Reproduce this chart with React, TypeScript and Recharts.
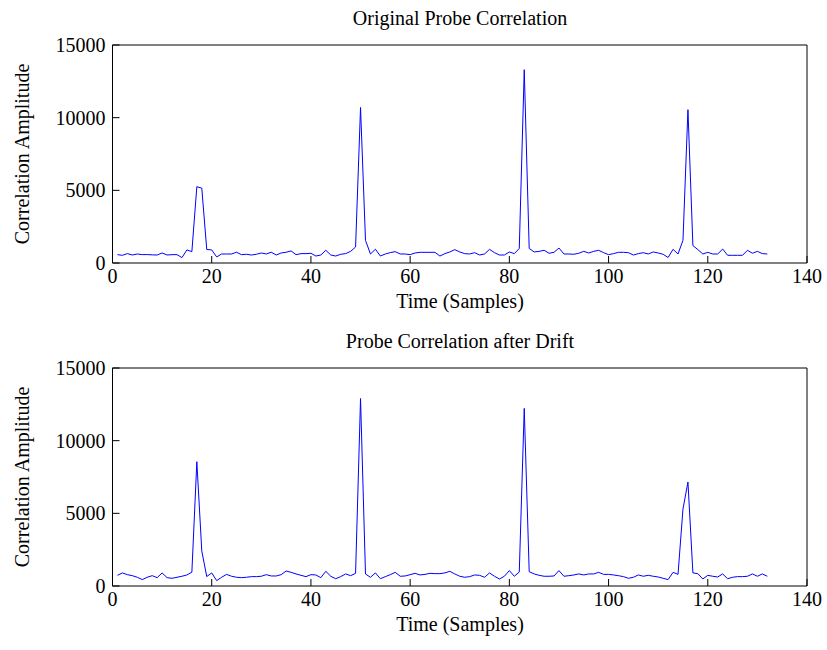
import React from 'react';
import { LineChart, Line, XAxis, YAxis } from 'recharts';

// correlation amplitude per sample (samples 1..132)
const originalCorr = [
  575, 530, 645, 550, 620, 575, 580, 560, 550, 690,
  550, 575, 575, 370, 900, 780, 5250, 5150, 930, 900,
  420, 620, 620, 620, 740, 575, 600, 550, 600, 690,
  620, 740, 550, 690, 740, 830, 575, 645, 645, 670,
  480, 550, 875, 550, 480, 600, 645, 800, 1100, 10700,
  1560, 620, 950, 480, 620, 715, 780, 620, 620, 575,
  690, 735, 735, 735, 735, 480, 645, 760, 920, 760,
  645, 620, 710, 550, 620, 940, 710, 550, 550, 760,
  645, 1000, 13300, 1000, 760, 800, 875, 670, 735, 1030,
  620, 620, 600, 670, 800, 690, 800, 875, 710, 575,
  645, 735, 735, 710, 550, 645, 710, 620, 760, 690,
  600, 380, 940, 620, 1560, 10550, 1200, 920, 620, 735,
  620, 620, 960, 530, 530, 530, 530, 875, 670, 800,
  645, 620,
];

const driftCorr = [
  735, 900, 780, 710, 600, 440, 600, 710, 575, 900,
  575, 530, 600, 670, 760, 950, 8550, 2400, 650, 900,
  370, 600, 800, 670, 600, 575, 600, 645, 645, 670,
  780, 690, 690, 780, 1030, 940, 830, 735, 645, 780,
  760, 575, 1010, 670, 500, 645, 830, 710, 870, 12900,
  825, 600, 900, 500, 645, 780, 940, 670, 690, 780,
  870, 760, 800, 870, 850, 850, 900, 1010, 830, 670,
  600, 645, 760, 735, 600, 900, 670, 480, 670, 1060,
  670, 960, 12220, 985, 830, 735, 670, 670, 690, 1060,
  670, 710, 760, 830, 760, 830, 830, 940, 800, 800,
  760, 710, 645, 530, 600, 760, 670, 735, 670, 620,
  530, 440, 940, 800, 5300, 7150, 900, 850, 480, 735,
  670, 620, 830, 500, 600, 645, 645, 670, 830, 670,
  830, 670,
];

const xTicks = [0, 20, 40, 60, 80, 100, 120, 140];
const yTicks = [0, 5000, 10000, 15000];

const FONT = '"Liberation Serif", "Times New Roman", serif';
const TICK_LEN = 7;

const toRows = (vals: number[]) => vals.map((v, i) => ({ t: i + 1, v }));

// mirrored axes draw ticks inward; these put the labels back outside the box
const BottomTick = (props: any) => (
  <text x={props.x} y={props.y + TICK_LEN + 6} dy="0.71em" textAnchor="middle"
    fontFamily={FONT} fontSize={20} fill="#000">
    {props.payload.value}
  </text>
);

const LeftTick = (props: any) => (
  <text x={props.x - TICK_LEN - 7} y={props.y} dy="0.35em" textAnchor="end"
    fontFamily={FONT} fontSize={20} fill="#000">
    {props.payload.value}
  </text>
);

const textStyle: React.CSSProperties = {
  position: 'absolute',
  fontFamily: FONT,
  fontSize: 20,
  lineHeight: '24px',
  color: '#000',
  textAlign: 'center',
  whiteSpace: 'nowrap',
};

const Panel: React.FC<{ values: number[]; top: number; title: string }> = ({ values, top, title }) => {
  const rows = toRows(values);
  return (
    <div style={{ position: 'absolute', left: 0, top, width: 827, height: 325 }}>
      <LineChart width={827} height={325} data={rows} margin={{ top: 45, right: 20, bottom: 62, left: 112.5 }}>
        <XAxis dataKey="t" type="number" orientation="bottom" mirror domain={[0, 140]} ticks={xTicks}
          height={30} stroke="#000" tickSize={TICK_LEN} tickMargin={0} tick={<BottomTick />} />
        <XAxis xAxisId="top" dataKey="t" type="number" orientation="top" mirror domain={[0, 140]}
          ticks={xTicks} height={30} stroke="#000" tickSize={TICK_LEN} tick={false} />
        <YAxis type="number" orientation="left" mirror domain={[0, 15000]} ticks={yTicks}
          width={60} stroke="#000" tickSize={TICK_LEN} tickMargin={0} tick={<LeftTick />} />
        <YAxis yAxisId="right" orientation="right" mirror type="number" domain={[0, 15000]}
          ticks={yTicks} width={60} stroke="#000" tickSize={TICK_LEN} tick={false} />
        <Line type="linear" dataKey="v" stroke="#0000ff" strokeWidth={1} dot={false} isAnimationActive={false} />
      </LineChart>
      <div style={{ ...textStyle, left: 160, width: 600, top: 6 }}>{title}</div>
      <div style={{ ...textStyle, left: 160, width: 600, top: 289 }}>Time (Samples)</div>
      <div style={{ ...textStyle, left: -128, width: 300, top: 142, transform: 'rotate(-90deg)' }}>
        Correlation Amplitude
      </div>
    </div>
  );
};

export default function App() {
  return (
    <div style={{ position: 'absolute', left: 0, top: 0, width: 827, height: 650, background: '#fff' }}>
      <Panel values={originalCorr} top={0} title="Original Probe Correlation" />
      <Panel values={driftCorr} top={323} title="Probe Correlation after Drift" />
    </div>
  );
}
